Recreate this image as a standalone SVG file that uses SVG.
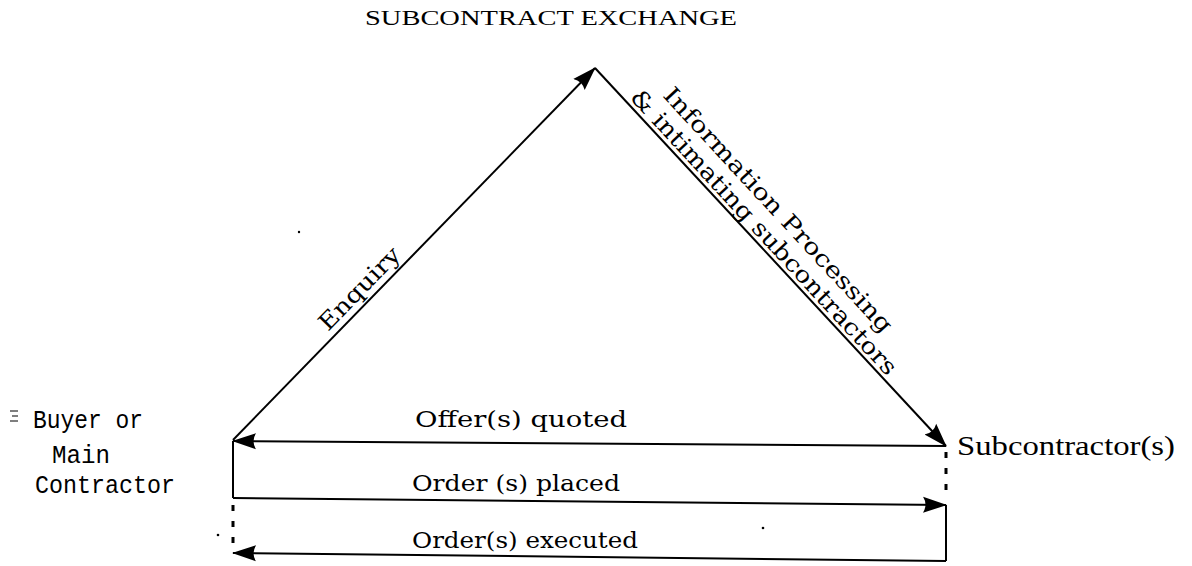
<svg xmlns="http://www.w3.org/2000/svg" width="1192" height="566" viewBox="0 0 1192 566">
  <style>
    .ln { stroke: #000; stroke-width: 2; fill: none; }
    .dot { stroke: #000; stroke-width: 3; fill: none; stroke-dasharray: 6 10; }
    .title { font-family: "Liberation Serif", "DejaVu Serif", serif; font-size: 21px; fill: #000; }
    .lbl { font-family: "DejaVu Serif", "Liberation Serif", serif; font-size: 23px; fill: #000; }
    .party { font-family: "Liberation Mono", "DejaVu Sans Mono", monospace; font-size: 25px; fill: #000; }
    .sub { font-family: "Liberation Serif", "DejaVu Serif", serif; font-size: 27px; fill: #000; }
  </style>
  <defs>
    <marker id="arrow" viewBox="0 0 24 18" refX="23" refY="9" markerWidth="24" markerHeight="18" markerUnits="userSpaceOnUse" orient="auto">
      <path d="M0,1 Q5,9 0,17 L24,9 Z" fill="#000"/>
    </marker>
  </defs>
  <rect width="1192" height="566" fill="#fff"/>

  <!-- central exchange heading -->
  <g id="exchange">
    <text class="title" x="365" y="25" textLength="372" lengthAdjust="spacingAndGlyphs">SUBCONTRACT EXCHANGE</text>
  </g>

  <!-- buyer / main contractor -->
  <g id="buyer">
    <path d="M10,411 h8 M12,416 h6 M10,421 h8" stroke="#000" stroke-width="1.2"/>
    <text class="party" x="33" y="428" textLength="110" lengthAdjust="spacingAndGlyphs">Buyer or</text>
    <text class="party" x="52" y="463" textLength="58" lengthAdjust="spacingAndGlyphs">Main</text>
    <text class="party" x="35" y="493" textLength="140" lengthAdjust="spacingAndGlyphs">Contractor</text>
  </g>

  <!-- subcontractor side -->
  <g id="subcontractor">
    <text class="sub" x="957" y="455" textLength="218" lengthAdjust="spacingAndGlyphs">Subcontractor(s)</text>
  </g>

  <!-- flows between the parties -->
  <g id="connectors">
    <!-- enquiry: buyer to exchange -->
    <line class="ln" x1="233" y1="440" x2="595" y2="68" marker-end="url(#arrow)"/>
    <!-- processing: exchange to subcontractors -->
    <line class="ln" x1="595" y1="68" x2="946" y2="446" marker-end="url(#arrow)"/>
    <!-- offers back to buyer -->
    <line class="ln" x1="946" y1="446" x2="233" y2="441" marker-end="url(#arrow)"/>
    <!-- orders to subcontractor -->
    <line class="ln" x1="233" y1="498" x2="946" y2="505" marker-end="url(#arrow)"/>
    <!-- executed orders back to buyer -->
    <line class="ln" x1="946" y1="561" x2="233" y2="553" marker-end="url(#arrow)"/>
    <!-- verticals -->
    <line class="ln" x1="233" y1="441" x2="233" y2="498"/>
    <line class="dot" x1="233" y1="505" x2="233" y2="545"/>
    <line class="dot" x1="946" y1="452" x2="946" y2="495"/>
    <line class="ln" x1="946" y1="505" x2="946" y2="561"/>
    <!-- stray specks -->
    <circle cx="218" cy="535" r="1.3" fill="#000"/>
    <circle cx="299" cy="232" r="1.2" fill="#000"/>
    <circle cx="763" cy="528" r="1.3" fill="#000"/>
  </g>

  <!-- connector labels -->
  <g id="labels">
    <text class="lbl" transform="translate(328,332) rotate(-45.8)" textLength="106" lengthAdjust="spacingAndGlyphs">Enquiry</text>
    <text class="lbl" transform="translate(662,96) rotate(47.2)" textLength="325" lengthAdjust="spacingAndGlyphs">Information  Processing</text>
    <text class="lbl" transform="translate(629,98) rotate(47.2)" textLength="380" lengthAdjust="spacingAndGlyphs">&amp; intimating subcontractors</text>
    <text class="lbl" x="415" y="427" textLength="212" lengthAdjust="spacingAndGlyphs">Offer(s)  quoted</text>
    <text class="lbl" x="412" y="491" textLength="208" lengthAdjust="spacingAndGlyphs">Order (s)  placed</text>
    <text class="lbl" x="412" y="548" textLength="226" lengthAdjust="spacingAndGlyphs">Order(s) executed</text>
  </g>
</svg>
